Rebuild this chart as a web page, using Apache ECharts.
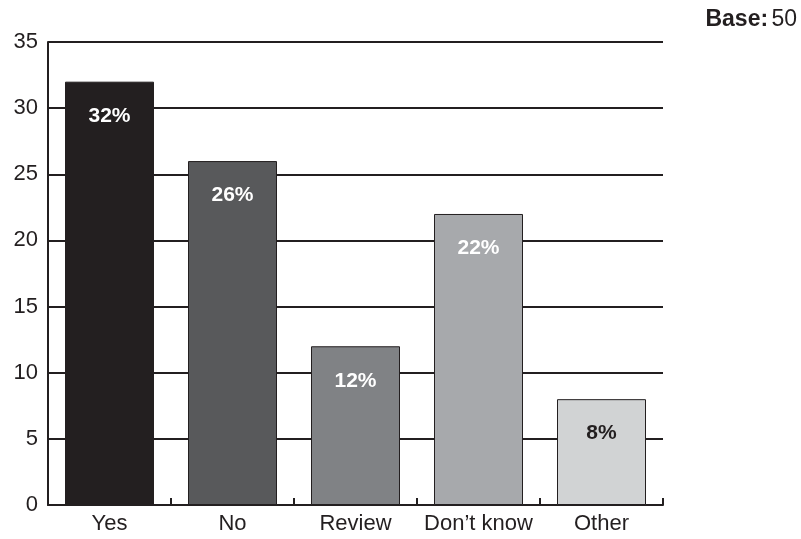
<!DOCTYPE html>
<html>
<head>
<meta charset="utf-8">
<script src="https://cdn.jsdelivr.net/npm/echarts@6/dist/echarts.min.js"></script>
<style>
  html, body { margin: 0; padding: 0; background: #fff; }
  #chart { width: 801px; height: 539px; }
</style>
</head>
<body>
<div id="chart"></div>
<script>
var categories = ['Yes', 'No', 'Review', "Don\u2019t know", 'Other'];
var values = [32, 26, 12, 22, 8];
var barColors = ['#231f20', '#58595b', '#808285', '#a7a9ac', '#d1d3d4'];
var labelColors = ['#ffffff', '#ffffff', '#ffffff', '#ffffff', '#231f20'];
var baseCount = 50;

var font = 'Liberation Sans, Arial, sans-serif';
var ink = '#231f20';

var chart = echarts.init(document.getElementById('chart'));

chart.setOption({
    animation: false,
    grid: { left: 48, right: 138, top: 42, bottom: 34 },
    xAxis: {
        type: 'category',
        data: categories,
        axisLine: { lineStyle: { color: ink, width: 2 } },
        axisTick: { show: true, inside: true, interval: 0, length: 7, lineStyle: { color: ink, width: 2 } },
        axisLabel: { color: ink, fontSize: 22, fontFamily: font, margin: 8, interval: 0 }
    },
    yAxis: {
        type: 'value',
        min: 0,
        max: 35,
        interval: 5,
        axisLine: { show: true, lineStyle: { color: ink, width: 2 } },
        axisTick: { show: false },
        axisLabel: { color: ink, fontSize: 22, fontFamily: font, margin: 10 },
        splitLine: { show: true, lineStyle: { color: ink, width: 2 } }
    },
    series: [{
        type: 'bar',
        barWidth: 89,
        data: values.map(function (v, i) {
            return {
                value: v,
                itemStyle: { color: barColors[i], borderColor: ink, borderWidth: 1 },
                label: { color: labelColors[i] }
            };
        }),
        label: {
            show: true,
            position: 'insideTop',
            distance: 24,
            fontSize: 21,
            fontWeight: 'bold',
            fontFamily: font,
            formatter: '{c}%'
        }
    }],
    graphic: [{
        type: 'text',
        right: 4,
        top: 8,
        style: {
            text: '{b|Base:} {n|' + baseCount + '}',
            rich: {
                b: { fontSize: 23, fontWeight: 'bold', fontFamily: font, fill: ink },
                n: { fontSize: 23, fontFamily: font, fill: ink }
            }
        }
    }]
});
</script>
</body>
</html>
